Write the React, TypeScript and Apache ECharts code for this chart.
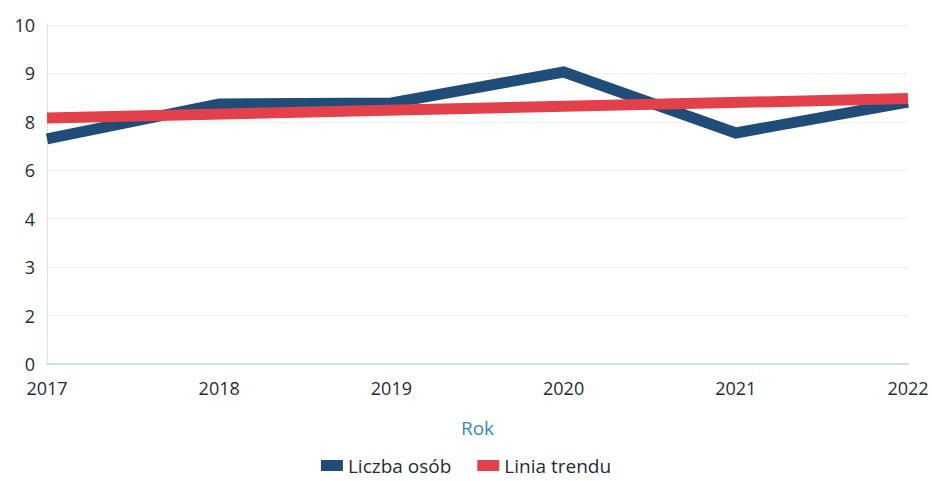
import React, { useEffect, useRef } from "react";
import * as echarts from "echarts";

const years = ["2017", "2018", "2019", "2020", "2021", "2022"];
const yTickLabels = ["0", "2", "3", "4", "6", "8", "9", "10"];
// values in tick-step units (0..7)
const liczbaOsob = [4.65, 5.37, 5.39, 6.03, 4.77, 5.41];
const liniaTrendu: (number | null)[] = [5.08, null, null, null, null, 5.48];

export default function App() {
  const ref = useRef<HTMLDivElement>(null);
  useEffect(() => {
    if (!ref.current) return;
    const chart = echarts.init(ref.current, undefined, { renderer: "svg" });
    chart.setOption({
      animation: false,
      backgroundColor: "#ffffff",
      textStyle: { fontFamily: "Open Sans" },
      grid: { left: 47, right: 24, top: 25, bottom: 117 },
      xAxis: {
        type: "category",
        data: years,
        boundaryGap: false,
        name: "Rok",
        nameLocation: "middle",
        nameGap: 54,
        nameTextStyle: { color: "#3f88ad", fontSize: 19, fontFamily: "Open Sans" },
        axisLine: { show: true, lineStyle: { color: "#cfe0e0", width: 2 } },
        axisTick: { show: false },
        axisLabel: { color: "#1f2c38", fontSize: 18, margin: 15, fontFamily: "Open Sans" },
        splitLine: { show: false },
      },
      yAxis: {
        type: "value",
        min: 0,
        max: 7,
        interval: 1,
        axisLine: { show: true, lineStyle: { color: "#d5e2ea", width: 1 } },
        axisTick: { show: false },
        axisLabel: {
          color: "#1f2c38",
          fontSize: 18,
          margin: 12,
          fontFamily: "Open Sans",
          formatter: (v: number) => yTickLabels[Math.round(v)] ?? "",
        },
        splitLine: { show: true, lineStyle: { color: "#f0f2f2", width: 1 } },
      },
      legend: {
        bottom: 1,
        left: "center",
        icon: "rect",
        itemWidth: 22,
        itemHeight: 11,
        itemGap: 26,
        textStyle: { color: "#1f2c38", fontSize: 19, fontFamily: "Open Sans" },
        data: ["Liczba osób", "Linia trendu"],
      },
      series: [
        {
          name: "Liczba osób",
          type: "line",
          data: liczbaOsob,
          showSymbol: false,
          symbol: "none",
          color: "#1f4d78",
          lineStyle: { color: "#1f4d78", width: 11, join: "miter" },
          z: 2,
        },
        {
          name: "Linia trendu",
          type: "line",
          data: liniaTrendu,
          connectNulls: true,
          showSymbol: false,
          symbol: "none",
          color: "#e2404a",
          lineStyle: { color: "#e2404a", width: 11 },
          z: 3,
        },
      ],
    });
    return () => chart.dispose();
  }, []);
  return <div ref={ref} style={{ width: 932, height: 481, position: "absolute", left: 0, top: 0 }} />;
}
